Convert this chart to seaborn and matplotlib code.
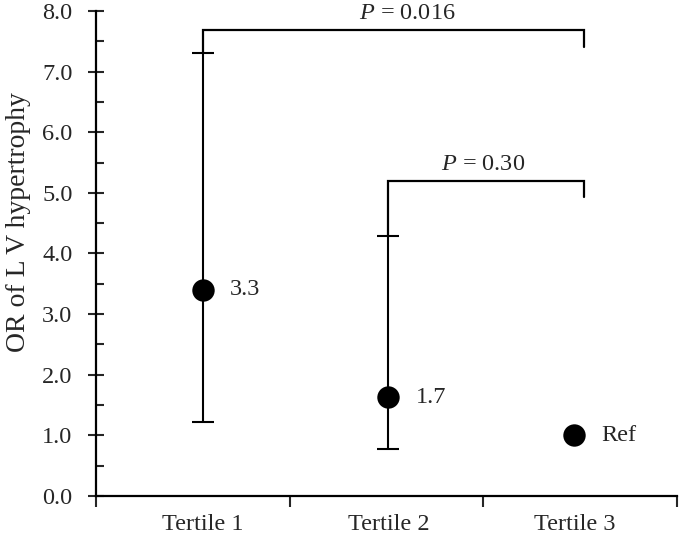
import matplotlib
matplotlib.use("Agg")
import matplotlib.pyplot as plt
import seaborn as sns
import pandas as pd
import numpy as np
from matplotlib.ticker import MultipleLocator, FixedLocator, NullFormatter

categories = ["Tertile 1", "Tertile 2", "Tertile 3"]
or_values = [3.4, 1.63, 1.0]
ci_lower = [1.22, 0.78, np.nan]
ci_upper = [7.31, 4.29, np.nan]
value_labels = ["3.3", "1.7", "Ref"]
p_labels = ["0.016", "0.30"]
y_ticks = [0.0, 1.0, 2.0, 3.0, 4.0, 5.0, 6.0, 7.0, 8.0]

sns.set_theme(style="white")
plt.rcParams["font.family"] = ["Liberation Serif", "DejaVu Serif"]
plt.rcParams["mathtext.fontset"] = "custom"
plt.rcParams["mathtext.it"] = "Liberation Serif:italic"
plt.rcParams["mathtext.rm"] = "Liberation Serif"

FS = 17.5
# points sit slightly off the category centres, as in the original layout
offsets = np.array([0.05, 0.01, -0.03])
df = pd.DataFrame({"cat": categories, "x": np.arange(len(categories)) + 0.5 + offsets,
                   "OR": or_values, "lo": ci_lower, "hi": ci_upper,
                   "lab": value_labels})

fig = plt.figure(figsize=(6.81, 5.36), dpi=100)
ax = fig.add_axes([0.141, 0.0746, 0.853, 0.905])

has_ci = df.dropna(subset=["lo", "hi"])
ax.errorbar(has_ci["x"], has_ci["OR"],
            yerr=[has_ci["OR"] - has_ci["lo"], has_ci["hi"] - has_ci["OR"]],
            fmt="none", ecolor="black", elinewidth=1.5, capsize=8, capthick=1.5, zorder=2)

sns.scatterplot(data=df, x="x", y="OR", color="black", s=260, edgecolor="black",
                linewidth=0, ax=ax, zorder=3, legend=False)

for _, r in df.iterrows():
    ax.text(r["x"] + 0.14, r["OR"], r["lab"], fontsize=FS, va="center", ha="left")

def bracket(x0, x1, ytop, yl, yr, label, xt):
    ax.plot([x0, x0, x1, x1], [yl, ytop, ytop, yr], color="black", lw=1.6,
            solid_joinstyle="miter", clip_on=False)
    ax.text(xt, ytop + 0.1, r"$P$ = " + label, fontsize=FS, ha="center", va="bottom")

x = df["x"].values
xr = x[2] + 0.05
bracket(x[0], xr, 7.69, ci_upper[0], 7.4, p_labels[0], 1.606)
bracket(x[1], xr, 5.2, ci_upper[1], 4.93, p_labels[1], 2.0)

ax.set_xlim(0, 3)
ax.set_ylim(0, 8)
ax.set_yticks(y_ticks)
ax.set_yticklabels([f"{v:.1f}" for v in y_ticks], fontsize=FS)
ax.yaxis.set_minor_locator(MultipleLocator(0.5))
ax.tick_params(axis="y", which="major", direction="inout", length=12, width=1.5, left=True, pad=11)
ax.tick_params(axis="y", which="minor", direction="in", length=6, width=1.5, left=True)

ax.xaxis.set_major_locator(FixedLocator([0, 1, 2, 3]))
ax.xaxis.set_major_formatter(NullFormatter())
ax.xaxis.set_minor_locator(FixedLocator(list(x)))
ax.set_xticklabels(categories, minor=True, fontsize=FS)
ax.tick_params(axis="x", which="major", direction="out", length=8, width=1.5, bottom=True)
ax.tick_params(axis="x", which="minor", length=0, pad=13)

ax.set_xlabel("")
ax.set_ylabel("OR of L V hypertrophy", fontsize=20)
ax.yaxis.set_label_coords(-0.112, 0.565)

for s in ["top", "right"]:
    ax.spines[s].set_visible(False)
for s in ["left", "bottom"]:
    ax.spines[s].set_color("black")
    ax.spines[s].set_linewidth(1.6)

fig.savefig("out.png", dpi=100)
